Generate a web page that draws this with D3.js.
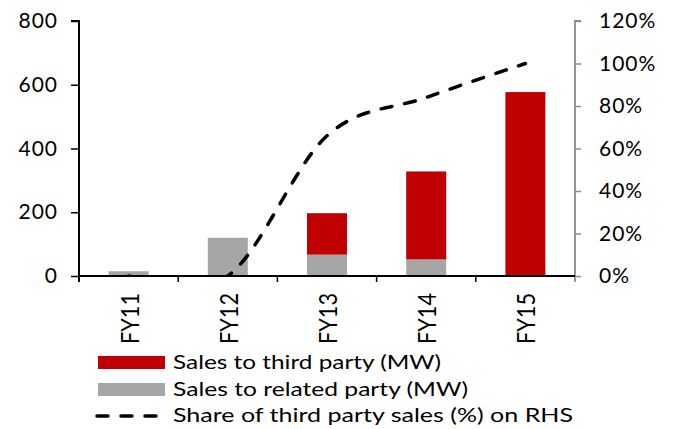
<!DOCTYPE html>
<html><head><meta charset="utf-8">
<script src="https://cdn.jsdelivr.net/npm/d3@7"></script>
<style>
body{margin:0;background:#fff;}
text{font-family:Lato,"Noto Sans",sans-serif;fill:#000;}
</style></head>
<body><svg id="c" width="679" height="429"></svg>
<script>
const categories = ["FY11","FY12","FY13","FY14","FY15"];
const thirdParty = [0, 0, 130, 276, 577];
const relatedParty = [15, 120, 67, 52, 0];
const shareThird = [0, 0, 66, 84, 100];
const leftTicks = [0, 200, 400, 600, 800];
const rightTicks = [0, 20, 40, 60, 80, 100, 120];
const legendLabels = ["Sales to third party (MW)", "Sales to related party (MW)", "Share of third party sales (%) on RHS"];

const RED = "#C00000", GRAY = "#A6A6A6";
const svg = d3.select("#c");
const L = 79, R = 575, T = 21, B = 276;

const x = d3.scaleBand().domain(categories).range([L, R]).paddingInner(0.597).paddingOuter(0.2985);
const yL = d3.scaleLinear().domain([0, 800]).range([B, T]);
const yR = d3.scaleLinear().domain([0, 120]).range([B, T]);

svg.append("defs").append("clipPath").attr("id","plot")
  .append("rect").attr("x", L).attr("y", T).attr("width", R - L).attr("height", B - T);

// bars
const g = svg.append("g");
categories.forEach((c, i) => {
  g.append("rect").attr("x", x(c)).attr("width", x.bandwidth())
    .attr("y", yL(relatedParty[i])).attr("height", yL(0) - yL(relatedParty[i])).attr("fill", GRAY);
  g.append("rect").attr("x", x(c)).attr("width", x.bandwidth())
    .attr("y", yL(relatedParty[i] + thirdParty[i])).attr("height", yL(relatedParty[i]) - yL(relatedParty[i] + thirdParty[i])).attr("fill", RED);
});

// line
const cx = c => x(c) + x.bandwidth() / 2;
const line = d3.line().x((d, i) => cx(categories[i])).y(d => yR(d)).curve(d3.curveCardinal.tension(0));
svg.append("path").attr("d", line(shareThird)).attr("clip-path","url(#plot)")
  .attr("fill","none").attr("stroke","#000").attr("stroke-width",3.5)
  .attr("stroke-dasharray","11,13").attr("stroke-linecap","round");

// left axis
const la = svg.append("g").attr("transform", `translate(${L},0)`)
  .call(d3.axisLeft(yL).tickValues(leftTicks).tickSize(8).tickPadding(13).tickFormat(d3.format("d")));
la.select(".domain").attr("stroke","#000").attr("stroke-width",2).attr("d", `M-8,${T}H0V${B+6}`);
la.selectAll(".tick line").attr("stroke","#000").attr("stroke-width",1.5);
la.selectAll(".tick text").style("font-size","21px").attr("letter-spacing","1px");

// right axis
const ra = svg.append("g").attr("transform", `translate(${R},0)`)
  .call(d3.axisRight(yR).tickValues(rightTicks).tickSize(6).tickPadding(18).tickFormat(d => d + "%"));
ra.select(".domain").attr("stroke","#8c8c8c").attr("stroke-width",1.8).attr("d", `M6,${T}H0V${B+6}`);
ra.selectAll(".tick line").attr("stroke","#8c8c8c").attr("stroke-width",1.5);
ra.selectAll(".tick text").style("font-size","21px").attr("letter-spacing","1px");

// x axis
svg.append("line").attr("x1", L).attr("x2", R).attr("y1", B).attr("y2", B).attr("stroke","#000").attr("stroke-width",2);
const bounds = categories.slice(1).map(c => x(c) - x.step() * x.paddingInner() / 2);
svg.selectAll(".xt").data(bounds).enter().append("line")
  .attr("x1", d => d).attr("x2", d => d).attr("y1", B).attr("y2", B + 6).attr("stroke","#000").attr("stroke-width",1.5);
svg.selectAll(".xl").data(categories).enter().append("text")
  .attr("transform", c => `translate(${cx(c) + 1},293) rotate(-90)`)
  .attr("text-anchor","end").attr("dy","0.36em")
  .attr("textLength", 51).attr("lengthAdjust","spacingAndGlyphs")
  .style("font-size","25px").text(c => c);

// legend
const lg = svg.append("g");
lg.append("rect").attr("x",98).attr("y",356).attr("width",67).attr("height",13).attr("fill",RED);
lg.append("rect").attr("x",98).attr("y",383).attr("width",67).attr("height",13).attr("fill",GRAY);
lg.append("line").attr("x1",97).attr("x2",163).attr("y1",416).attr("y2",416)
  .attr("stroke","#000").attr("stroke-width",3.5).attr("stroke-dasharray","11,13").attr("stroke-linecap","round");
const lens = [268, 295, 400];
const ys = [369, 396, 422];
legendLabels.forEach((t, i) => {
  lg.append("text").attr("x",173).attr("y",ys[i]).style("font-size","20px")
    .attr("textLength", lens[i]).attr("lengthAdjust","spacingAndGlyphs").text(t);
});
</script></body></html>
